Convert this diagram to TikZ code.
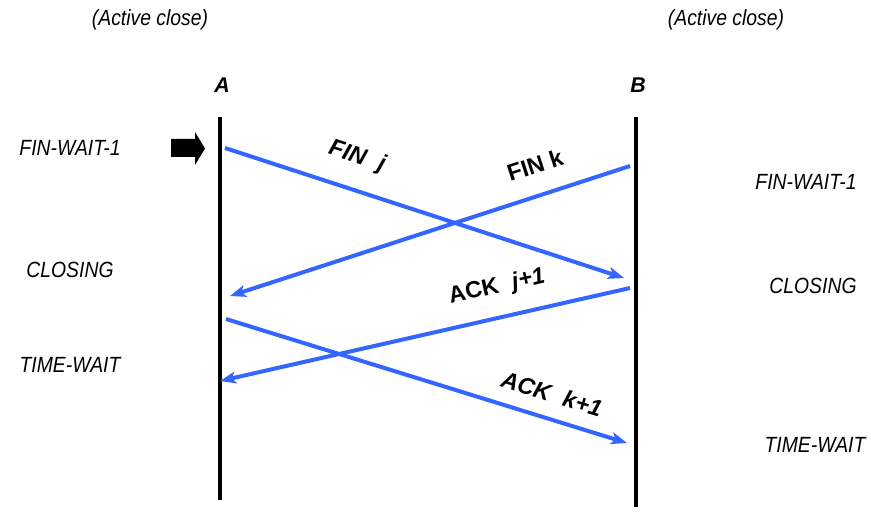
\documentclass[tikz,border=0pt]{standalone}
\usepackage{fontspec}
\setmainfont{Liberation Sans}
\newfontfamily\narrowfont[FakeStretch=0.88]{Liberation Sans}
\usetikzlibrary{arrows.meta}
\definecolor{msgblue}{HTML}{3366FF}
\newcommand{\gapsp}{\hspace{0.6em}}
\begin{document}
\begin{tikzpicture}[x=0.75pt,y=-0.75pt,
  lbl/.style={font=\narrowfont\fontsize{16.5}{18}\selectfont\itshape, inner sep=0pt},
  head/.style={font=\fontsize{16}{18}\selectfont\bfseries\itshape, inner sep=0pt},
  msg/.style={msgblue, line width=3pt, -{Stealth[length=12pt,width=9pt,inset=3pt]}},
  msgl/.style={font=\fontsize{17.5}{19}\selectfont\bfseries, inner sep=0pt},
  life/.style={line width=2.3pt, black}]
\useasboundingbox (0,0) rectangle (871,513);
% lifelines
\coordinate (a0) at (220,117); \coordinate (a1) at (220,500);
\coordinate (b0) at (636,117); \coordinate (b1) at (636,507);
\draw[life] (a0) -- (a1);
\draw[life] (b0) -- (b1);
\node[head] (A) at (222,85) {A};
\node[head] (B) at (638,85) {B};
\node[lbl] (acl) at (150,20) {(Active close)};
\node[lbl] (acr) at (726,20) {(Active close)};
% states
\node[lbl] (s1) at (70,148) {FIN-WAIT-1};
\node[lbl] (s2) at (70,270) {CLOSING};
\node[lbl] (s3) at (70,365) {TIME-WAIT};
\node[lbl] (r1) at (806,182) {FIN-WAIT-1};
\node[lbl] (r2) at (813,286) {CLOSING};
\node[lbl] (r3) at (815,445) {TIME-WAIT};
% big arrow
\fill (171,139) -- (195,139) -- (195,132) -- (205,148.5) -- (195,165) -- (195,157) -- (171,157) -- cycle;
% messages
\coordinate (m1s) at (225,148); \coordinate (m1e) at (624,278);
\coordinate (m2s) at (630,166); \coordinate (m2e) at (230,296);
\coordinate (m3s) at (630,288); \coordinate (m3e) at (220,381);
\coordinate (m4s) at (226,319); \coordinate (m4e) at (627,443);
\draw[msg] (m1s) -- (m1e);
\draw[msg] (m2s) -- (m2e);
\draw[msg] (m3s) -- (m3e);
\draw[msg] (m4s) -- (m4e);
\node[msgl, rotate=-18] (l1) at (357,157) {\itshape FIN\gapsp j};
\node[msgl, rotate=18] (l2) at (535,165) {FIN k};
\node[msgl, rotate=12.7] (l3) at (497,287) {ACK\gapsp\itshape j+1};
\node[msgl, rotate=-17] (l4) at (552,394) {\itshape ACK\gapsp k+1};
\end{tikzpicture}
\end{document}
